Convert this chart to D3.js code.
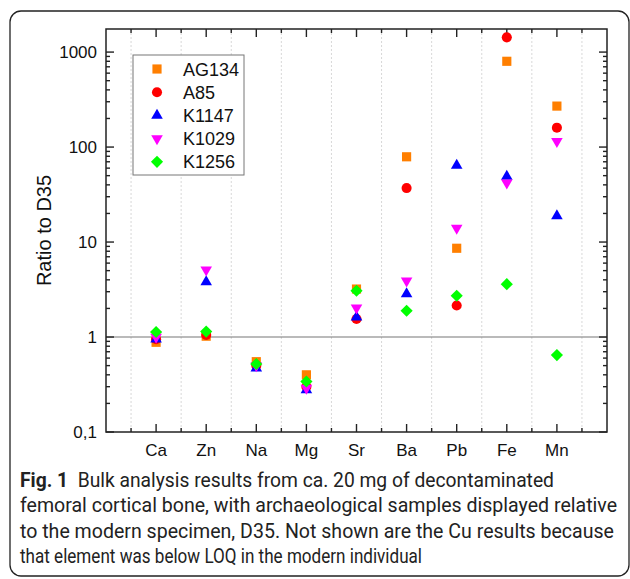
<!DOCTYPE html>
<meta charset="utf-8">
<style>
body { margin: 0; background: #fff; }
svg text { font-family: "Liberation Sans", Arial, sans-serif; fill: #111; }
.cap { font-family: Roboto, "Noto Sans", sans-serif; font-size: 20px; fill: #222; }
</style>
<body>
<svg width="630" height="579"></svg>
</body>
<script src="https://d3js.org/d3.v7.min.js"></script>
<script>
// elements on the x axis
const elements = ["Ca", "Zn", "Na", "Mg", "Sr", "Ba", "Pb", "Fe", "Mn"];
const samples = ["AG134", "A85", "K1147", "K1029", "K1256"];

// ratio to D35
const AG134 = [0.88, 1.02, 0.55, 0.40, 3.2, 79, 8.6, 800, 270];
const A85   = [0.95, 1.05, 0.50, 0.30, 1.55, 37, 2.15, 1430, 160];
const K1147 = [0.95, 3.8, 0.47, 0.277, 1.62, 2.85, 64, 49, 18.8];
const K1029 = [1.0, 5.1, 0.50, 0.29, 2.03, 3.9, 14, 42, 115];
const K1256 = [1.13, 1.14, 0.52, 0.34, 3.07, 1.89, 2.72, 3.6, 0.645];

const yTicks = [0.1, 1, 10, 100, 1000];
const yTickLabels = ["0,1", "1", "10", "100", "1000"];

const seriesValues = [AG134, A85, K1147, K1029, K1256];
const colors = ["#ff7f00", "#ff0000", "#0000ff", "#ff00ff", "#00ff00"];

const svg = d3.select("svg");
const plot = {left: 106, right: 607, top: 29, bottom: 432};

// outer caption frame
svg.append("rect")
  .attr("x", 10).attr("y", 11).attr("width", 619).attr("height", 565)
  .attr("rx", 11).attr("fill", "none").attr("stroke", "#222").attr("stroke-width", 1.3);

const x = d3.scaleLinear().domain([0, 10]).range([plot.left, plot.right]);
const y = d3.scaleLog().domain([0.1, 1750]).range([plot.bottom, plot.top]);

// dotted grid between categories
const halfPos = d3.range(0.5, 10, 1);
svg.append("g").selectAll("line").data(halfPos).enter().append("line")
  .attr("x1", d => x(d)).attr("x2", d => x(d))
  .attr("y1", plot.top).attr("y2", plot.bottom)
  .attr("stroke", "#d8d8d8").attr("stroke-dasharray", "2,2");

// line at ratio 1
svg.append("line")
  .attr("x1", plot.left).attr("x2", plot.right)
  .attr("y1", y(1)).attr("y2", y(1))
  .attr("stroke", "#777").attr("stroke-width", 1.2);

// x ticks (inward, top and bottom)
const catPos = d3.range(1, 10);
const axisG = svg.append("g").attr("stroke", "#222").attr("stroke-width", 1.4);
catPos.forEach(p => {
  axisG.append("line").attr("x1", x(p)).attr("x2", x(p)).attr("y1", plot.bottom).attr("y2", plot.bottom - 8);
  axisG.append("line").attr("x1", x(p)).attr("x2", x(p)).attr("y1", plot.top).attr("y2", plot.top + 8);
});
halfPos.forEach(p => {
  axisG.append("line").attr("x1", x(p)).attr("x2", x(p)).attr("y1", plot.bottom).attr("y2", plot.bottom - 4);
  axisG.append("line").attr("x1", x(p)).attr("x2", x(p)).attr("y1", plot.top).attr("y2", plot.top + 4);
});

// y ticks (inward, left and right)
const minor = [];
yTicks.forEach(t => { for (let k = 2; k <= 9; k++) if (t * k <= 1750) minor.push(t * k); });
yTicks.forEach(t => {
  axisG.append("line").attr("x1", plot.left).attr("x2", plot.left + 8).attr("y1", y(t)).attr("y2", y(t));
  axisG.append("line").attr("x1", plot.right).attr("x2", plot.right - 8).attr("y1", y(t)).attr("y2", y(t));
});
minor.forEach(t => {
  axisG.append("line").attr("x1", plot.left).attr("x2", plot.left + 4).attr("y1", y(t)).attr("y2", y(t));
  axisG.append("line").attr("x1", plot.right).attr("x2", plot.right - 4).attr("y1", y(t)).attr("y2", y(t));
});

// frame of the plot
svg.append("rect")
  .attr("x", plot.left).attr("y", plot.top)
  .attr("width", plot.right - plot.left).attr("height", plot.bottom - plot.top)
  .attr("fill", "none").attr("stroke", "#222").attr("stroke-width", 1.5);

// tick labels
svg.append("g").selectAll("text").data(yTicks).enter().append("text")
  .attr("x", plot.left - 9).attr("y", d => y(d) + 6)
  .attr("text-anchor", "end").attr("font-size", 17)
  .text((d, i) => yTickLabels[i]);

svg.append("g").selectAll("text").data(elements).enter().append("text")
  .attr("x", (d, i) => x(i + 1)).attr("y", 456)
  .attr("text-anchor", "middle").attr("font-size", 17)
  .text(d => d);

svg.append("text")
  .attr("transform", `translate(51, ${(plot.top + plot.bottom) / 2}) rotate(-90)`)
  .attr("text-anchor", "middle").attr("font-size", 20)
  .text("Ratio to D35");

// marker shapes
const sq = d3.symbol().type(d3.symbolSquare).size(84);
const circ = d3.symbol().type(d3.symbolCircle).size(80);
const tri = d3.symbol().type(d3.symbolTriangle).size(58);
const dia = d3.symbol().type(d3.symbolSquare).size(74);
const shapes = [
  {path: sq(), rot: 0},
  {path: circ(), rot: 0},
  {path: tri(), rot: 0},
  {path: tri(), rot: 180},
  {path: dia(), rot: 45}
];

seriesValues.forEach((vals, s) => {
  svg.append("g").selectAll("path").data(vals).enter().append("path")
    .attr("d", shapes[s].path)
    .attr("transform", (d, i) => `translate(${x(i + 1)},${y(d)}) rotate(${shapes[s].rot})`)
    .attr("fill", colors[s]);
});

// legend
const leg = svg.append("g");
leg.append("rect").attr("x", 133).attr("y", 55).attr("width", 111).attr("height", 120)
  .attr("fill", "#fff").attr("stroke", "#777").attr("stroke-width", 1);
samples.forEach((name, s) => {
  const ly = 69 + s * 23.2;
  leg.append("path").attr("d", shapes[s].path)
    .attr("transform", `translate(157,${ly}) rotate(${shapes[s].rot})`)
    .attr("fill", colors[s]);
  leg.append("text").attr("x", 183).attr("y", ly + 6.5).attr("font-size", 18).text(name);
});

// caption
const capLines = [
  {bold: "Fig. 1", text: "  Bulk analysis results from ca. 20 mg of decontaminated", w: 534},
  {bold: "", text: "femoral cortical bone, with archaeological samples displayed relative", w: 597},
  {bold: "", text: "to the modern specimen, D35. Not shown are the Cu results because", w: 594},
  {bold: "", text: "that element was below LOQ in the modern individual", w: 402}
];
capLines.forEach((l, i) => {
  const t = svg.append("text").attr("class", "cap")
    .attr("x", 20).attr("y", 487 + i * 25.3)
    .attr("textLength", l.w).attr("lengthAdjust", "spacingAndGlyphs")
    .attr("xml:space", "preserve");
  if (l.bold) t.append("tspan").attr("font-weight", "bold").text(l.bold);
  t.append("tspan").text(l.text);
});
</script>
